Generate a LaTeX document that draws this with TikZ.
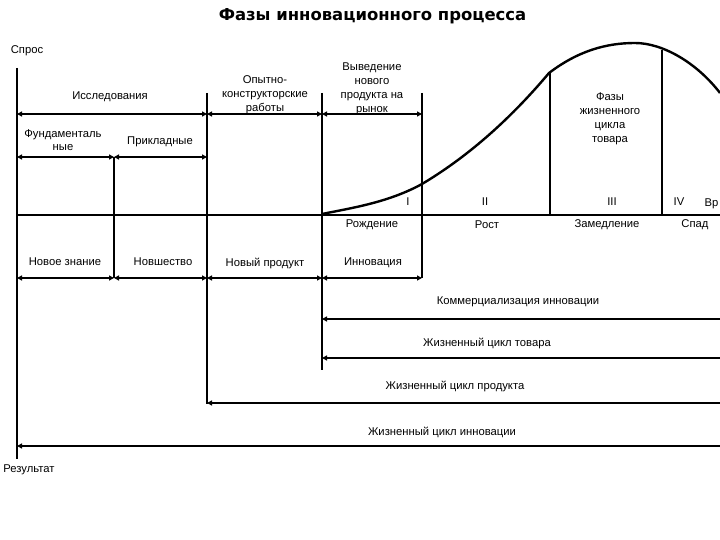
\documentclass[tikz,border=0pt]{standalone}
\usepackage{fontspec}
\setmainfont{Liberation Sans}
\newfontfamily\titlefont{DejaVu Sans}
\usetikzlibrary{arrows.meta}
\tikzset{
  lbl/.style={font=\fontsize{11.3}{14}\selectfont, align=center, inner sep=0pt},
  vline/.style={line width=1.8bp},
  axisline/.style={line width=2bp},
  tipA/.tip={Triangle[length=5bp,width=5bp]},
  dim/.style={line width=2.2bp, tipA-tipA},
  longdim/.style={line width=2.6bp, tipA-},
  curveline/.style={line width=2.4bp, line join=round}
}
\begin{document}
\begin{tikzpicture}[x=1bp,y=-1bp]
\useasboundingbox[fill=white] (0,0) rectangle (720,540);

% title
\node[inner sep=0pt, font=\titlefont\bfseries\fontsize{16.5}{18}\selectfont] (title) at (372.5,16) {Фазы инновационного процесса};

% axes
\coordinate (ytop) at (17,68);
\coordinate (ybot) at (17,459);
\coordinate (xend) at (720,215);
\coordinate (orig) at (17,215);
\draw[axisline] (ytop) -- (ybot);
\draw[axisline] (orig) -- (xend);
\node[lbl] (spros) at (27,51) {Спрос};
\node[lbl] (rez) at (29,470) {Результат};

% vertical lines
\coordinate (v114t) at (114,157); \coordinate (v114b) at (114,278);
\coordinate (v207t) at (207,93);  \coordinate (v207b) at (207,404);
\coordinate (v322t) at (322,93);  \coordinate (v322b) at (322,370);
\coordinate (v422t) at (422,93);  \coordinate (v422b) at (422,278);
\coordinate (v550t) at (550,73);  \coordinate (v550b) at (550,215);
\coordinate (v662t) at (662,50);  \coordinate (v662b) at (662,215);
\draw[vline] (v114t) -- (v114b);
\draw[vline] (v207t) -- (v207b);
\draw[vline] (v322t) -- (v322b);
\draw[vline] (v422t) -- (v422b);
\draw[vline] (v550t) -- (v550b);
\draw[vline] (v662t) -- (v662b);

% row 1 (y=114)
\coordinate (r1a) at (17,114); \coordinate (r1b) at (207,114);
\coordinate (r1c) at (322,114); \coordinate (r1d) at (422,114);
\draw[dim] (r1a) -- (r1b);
\draw[dim] (r1b) -- (r1c);
\draw[dim] (r1c) -- (r1d);

% row 2 (y=157)
\coordinate (r2a) at (17,157); \coordinate (r2b) at (114,157); \coordinate (r2c) at (207,157);
\draw[dim] (r2a) -- (r2b);
\draw[dim] (r2b) -- (r2c);

% row 3 (y=278)
\coordinate (r3a) at (17,278); \coordinate (r3b) at (114,278);
\coordinate (r3c) at (207,278); \coordinate (r3d) at (322,278); \coordinate (r3e) at (422,278);
\draw[dim] (r3a) -- (r3b);
\draw[dim] (r3b) -- (r3c);
\draw[dim] (r3c) -- (r3d);
\draw[dim] (r3d) -- (r3e);

% long bottom arrows
\coordinate (ka) at (322,319); \coordinate (kb) at (720,319);
\coordinate (ta) at (322,358); \coordinate (tb) at (720,358);
\coordinate (pa) at (207,403); \coordinate (pb) at (720,403);
\coordinate (ia) at (17,446);  \coordinate (ib) at (720,446);
\draw[longdim] (ka) -- (kb);
\draw[longdim] (ta) -- (tb);
\draw[longdim] (pa) -- (pb);
\draw[longdim] (ia) -- (ib);

% curve
\coordinate (c0) at (322,214);
\coordinate (c1) at (422,184);
\coordinate (c2) at (549,73);
\coordinate (c3) at (635,43);
\coordinate (c4) at (720,93);
\draw[curveline] (c0) .. controls (355,207.4) and (389,202) .. (c1)
  .. controls (464,159) and (507,123) .. (c2)
  .. controls (578,51) and (606,43) .. (c3)
  .. controls (663,43) and (697,63) .. (c4);

% labels upper
\node[lbl] (issl) at (110,97) {Исследования};
\node[lbl] (okr) at (265,95) {Опытно-\\конструкторские\\работы};
\node[lbl] (vyv) at (372,88.5) {Выведение\\нового\\продукта на\\рынок};
\node[lbl, font=\fontsize{11.3}{13}\selectfont] (fund) at (63,140.5) {Фундаменталь\\ные};
\node[lbl] (prikl) at (160,142) {Прикладные};
\node[lbl] (fazy) at (610,118.5) {Фазы\\жизненного\\цикла\\товара};

% phases
\node[lbl] (p1) at (408,202) {I};
\node[lbl] (p2) at (485,202) {II};
\node[lbl] (p3) at (612,202) {III};
\node[lbl] (p4) at (679,202) {IV};
\node[lbl, anchor=west] (vr) at (704.5,204) {Вр};
\node[lbl] (rozh) at (372,225) {Рождение};
\node[lbl] (rost) at (487,225) {Рост};
\node[lbl] (zam) at (607,225) {Замедление};
\node[lbl] (spad) at (695,225) {Спад};

% row 3 labels
\node[lbl] (nz) at (65,262) {Новое знание};
\node[lbl] (nsh) at (163,262) {Новшество};
\node[lbl] (np) at (265,263) {Новый продукт};
\node[lbl] (inn) at (373,263) {Инновация};

% bottom labels
\node[lbl] (komm) at (518,302) {Коммерциализация инновации};
\node[lbl] (jct) at (487,343) {Жизненный цикл товара};
\node[lbl] (jcp) at (455,386) {Жизненный цикл продукта};
\node[lbl] (jci) at (442,432) {Жизненный цикл инновации};
\end{tikzpicture}
\end{document}
